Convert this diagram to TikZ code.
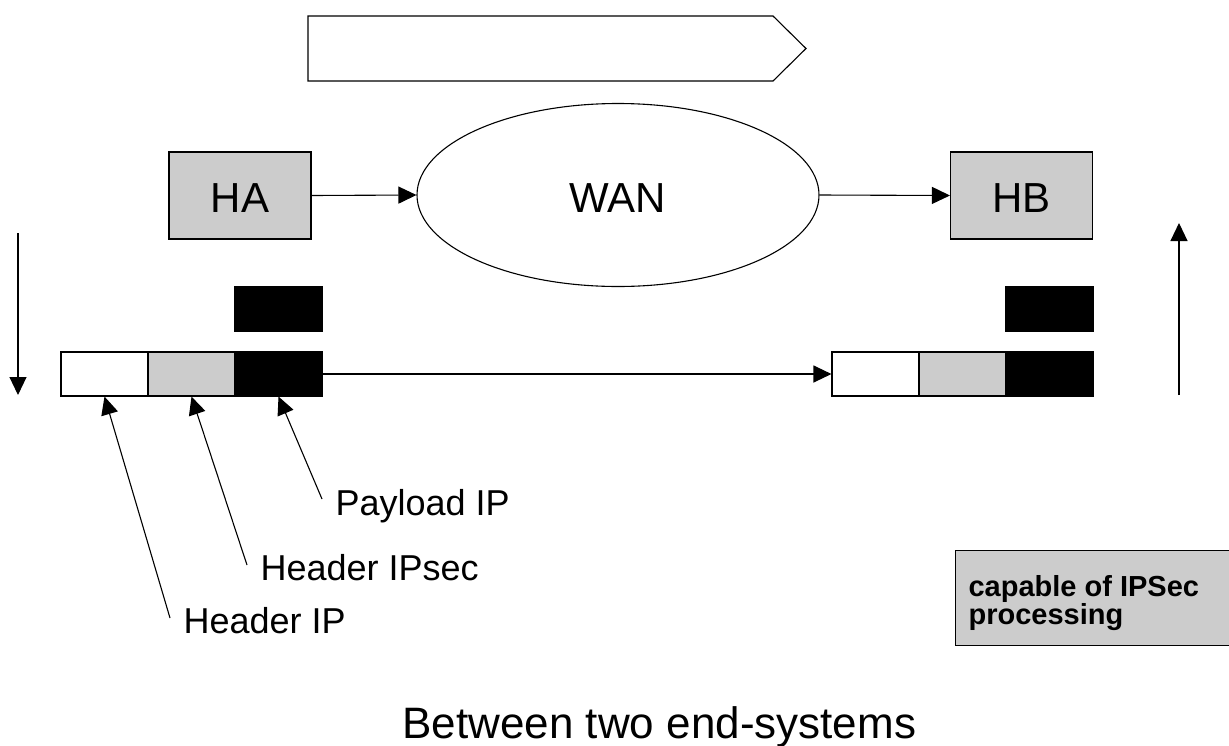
\documentclass[tikz,border=0pt]{standalone}
\usepackage{fontspec}
\setmainfont{Liberation Sans}
\usetikzlibrary{arrows.meta,shapes.geometric}
\definecolor{boxgrey}{RGB}{204,204,204}

\begin{document}
\begin{tikzpicture}[x=1pt,y=-1pt,line width=1.1pt,
  host/.style={draw,fill=boxgrey,minimum width=142pt,minimum height=87pt,inner sep=0pt,
               font=\fontsize{42}{42}\selectfont,text height=34pt,text depth=0pt},
  cloud/.style={draw,ellipse,minimum width=402pt,minimum height=183pt,inner sep=0pt,
               font=\fontsize{42}{42}\selectfont,text height=34pt,text depth=0pt},
  cell/.style={draw,minimum width=87pt,minimum height=44pt,inner sep=0pt},
  hdrip/.style={cell,fill=white},
  hdrsec/.style={cell,fill=boxgrey},
  payload/.style={cell,fill=black},
  arr/.style={-{Triangle[length=18pt,width=17pt]}},
  lbl/.style={anchor=base west,inner sep=0pt,font=\fontsize{36}{36}\selectfont},
]
\useasboundingbox (0,0) rectangle (1229,745);

% direction-of-flow banner
\draw[fill=white] (308,16) -- (773,16) -- (806,48.5) -- (773,81) -- (308,81) -- cycle;

% hosts and network
\node[host]  (HA)  at (240,195.5) {HA};
\node[cloud] (WAN) at (618,195)   {WAN};
\node[host]  (HB)  at (1021.5,195.5) {HB};
\draw[arr] (HA.east) -- (WAN.west);
\draw[arr] (WAN.east) -- (HB.west);

% outgoing packet at HA
\node[payload] (payA)  at (278.5,309) {};
\node[hdrip]   (pkA1)  at (104.5,374) {};
\node[hdrsec]  (pkA2)  at (191.5,374) {};
\node[payload] (pkA3)  at (278.5,374) {};

% incoming packet at HB
\node[payload] (payB)  at (1049.5,309) {};
\node[hdrip]   (pkB1)  at (875.5,374) {};
\node[hdrsec]  (pkB2)  at (962.5,374) {};
\node[payload] (pkB3)  at (1049.5,374) {};

\draw[arr] (pkA3.east) -- (pkB1.west);

% encapsulation / decapsulation direction
\coordinate (downTop) at (18,233);
\coordinate (downBot) at (18,395);
\coordinate (upBot)   at (1179,395);
\coordinate (upTop)   at (1179,223);
\draw[arr] (downTop) -- (downBot);
\draw[arr] (upBot) -- (upTop);

% field labels
\node[lbl] (lPay) at (335,515) {Payload IP};
\node[lbl] (lSec) at (260,580) {Header IPsec};
\node[lbl] (lIP)  at (183,633) {Header IP};
\coordinate (pPay) at (322,499);
\coordinate (pSec) at (247,565);
\coordinate (pIP)  at (170,618);
\draw[arr] (pPay) -- (pkA3.south);
\draw[arr] (pSec) -- (pkA2.south);
\draw[arr] (pIP)  -- (pkA1.south);

% legend
\node[draw,fill=boxgrey,anchor=north west,minimum width=290pt,minimum height=95pt,inner sep=0pt]
  (legend) at (955,550) {};
\node[anchor=north west,inner sep=0pt,align=left,font=\fontsize{29}{27}\selectfont\bfseries]
  (legtext) at (968,575) {capable of IPSec\\processing};

% caption
\node[anchor=base west,inner sep=0pt,font=\fontsize{44}{44}\selectfont] (title) at (402,738)
  {Between two end-systems};
\end{tikzpicture}
\end{document}
